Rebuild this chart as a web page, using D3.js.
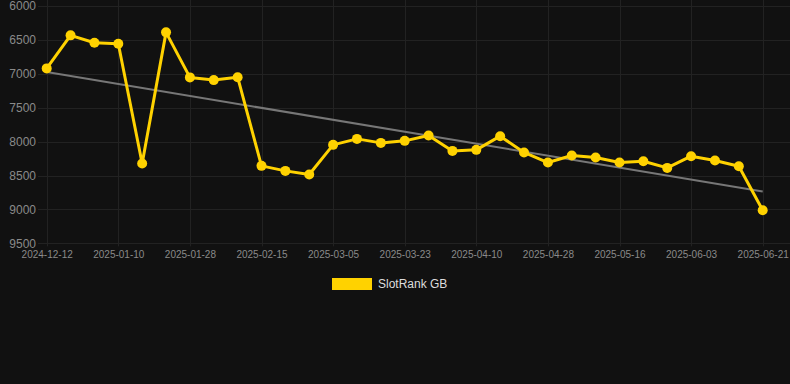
<!DOCTYPE html>
<html>
<head>
<meta charset="utf-8">
<script src="https://cdn.jsdelivr.net/npm/d3@7"></script>
<style>
  html, body { margin: 0; padding: 0; background: #111111; }
  svg { display: block; font-family: Arial, "Liberation Sans", sans-serif; }
  .grid line { stroke: #222222; stroke-width: 1; }
  .axis text { fill: #8a8a8a; }
</style>
</head>
<body>
<div id="chart"></div>
<script>
// dates of each sample (only every third one is labelled)
var dates = [
  "2024-12-12", "2024-12-22", "2025-01-01", "2025-01-10", "2025-01-16", "2025-01-22",
  "2025-01-28", "2025-02-03", "2025-02-09", "2025-02-15", "2025-02-21", "2025-02-27",
  "2025-03-05", "2025-03-11", "2025-03-17", "2025-03-23", "2025-03-29", "2025-04-04",
  "2025-04-10", "2025-04-16", "2025-04-22", "2025-04-28", "2025-05-04", "2025-05-10",
  "2025-05-16", "2025-05-22", "2025-05-28", "2025-06-03", "2025-06-09", "2025-06-15",
  "2025-06-21"
];
var rank = [
  6920, 6433, 6542, 6556, 8323, 6389,
  7053, 7093, 7050, 8358, 8432, 8486,
  8048, 7960, 8019, 7989, 7910, 8137,
  8122, 7920, 8160, 8309, 8205, 8235,
  8309, 8289, 8388, 8215, 8279, 8363,
  9013
];
var yTicks = [6000, 6500, 7000, 7500, 8000, 8500, 9000, 9500];
var seriesName = "SlotRank GB";

var width = 790, height = 384;
var gridLeft = 38, xFirst = 46.7, xLast = 762.7;
var yTop = 6, yBottom = 243.3;
var gold = "#ffd200";

var svg = d3.select("#chart").append("svg")
    .attr("width", width)
    .attr("height", height);

var x = d3.scalePoint()
    .domain(dates)
    .range([xFirst, xLast]);

var y = d3.scaleLinear()
    .domain([6000, 9500])
    .range([yTop, yBottom]);

var tickDates = dates.filter(function (d, i) { return i % 3 === 0; });

// grid
var grid = svg.append("g").attr("class", "grid");
grid.selectAll(".hline")
    .data(yTicks)
    .enter().append("line")
    .attr("x1", gridLeft).attr("x2", width)
    .attr("y1", function (d) { return Math.round(y(d)) + 0.5; })
    .attr("y2", function (d) { return Math.round(y(d)) + 0.5; });
grid.selectAll(".vline")
    .data(tickDates)
    .enter().append("line")
    .attr("x1", function (d) { return Math.round(x(d)) + 0.5; })
    .attr("x2", function (d) { return Math.round(x(d)) + 0.5; })
    .attr("y1", 0).attr("y2", yBottom + 3);

// axes (labels only)
var yAxis = svg.append("g")
    .attr("class", "axis")
    .attr("transform", "translate(" + (gridLeft - 2) + ",0)")
    .call(d3.axisLeft(y).tickValues(yTicks).tickSize(0).tickPadding(0).tickFormat(d3.format("d")));
yAxis.select(".domain").remove();
yAxis.selectAll("text").style("font-size", "12px");

var xAxis = svg.append("g")
    .attr("class", "axis")
    .attr("transform", "translate(0," + (yBottom + 8) + ")")
    .call(d3.axisBottom(x).tickValues(tickDates).tickSize(0).tickPadding(0));
xAxis.select(".domain").remove();
xAxis.selectAll("text").style("font-size", "10px");

// trend line (least squares over the series)
var n = rank.length;
var mx = d3.mean(rank, function (d, i) { return i; });
var my = d3.mean(rank);
var sxy = d3.sum(rank, function (d, i) { return (i - mx) * (d - my); });
var sxx = d3.sum(rank, function (d, i) { return (i - mx) * (i - mx); });
var slope = sxy / sxx;
var trend = [0, n - 1].map(function (i) { return { date: dates[i], value: my + slope * (i - mx) }; });

svg.append("path")
    .datum(trend)
    .attr("fill", "none")
    .attr("stroke", "#777777")
    .attr("stroke-width", 2)
    .attr("d", d3.line()
        .x(function (d) { return x(d.date); })
        .y(function (d) { return y(d.value); }));

// series line + dots
var line = d3.line()
    .x(function (d, i) { return x(dates[i]); })
    .y(function (d) { return y(d); });

svg.append("path")
    .datum(rank)
    .attr("fill", "none")
    .attr("stroke", gold)
    .attr("stroke-width", 3)
    .attr("stroke-linejoin", "round")
    .attr("d", line);

svg.selectAll(".dot")
    .data(rank)
    .enter().append("circle")
    .attr("class", "dot")
    .attr("cx", function (d, i) { return x(dates[i]); })
    .attr("cy", function (d) { return y(d); })
    .attr("r", 5)
    .attr("fill", gold);

// legend
var legend = svg.append("g").attr("transform", "translate(332,278)");
legend.append("rect")
    .attr("width", 40).attr("height", 12)
    .attr("fill", gold);
legend.append("text")
    .attr("x", 46).attr("y", 6)
    .attr("dy", "0.35em")
    .attr("fill", "#dddddd")
    .style("font-size", "12px")
    .text(seriesName);
</script>
</body>
</html>
